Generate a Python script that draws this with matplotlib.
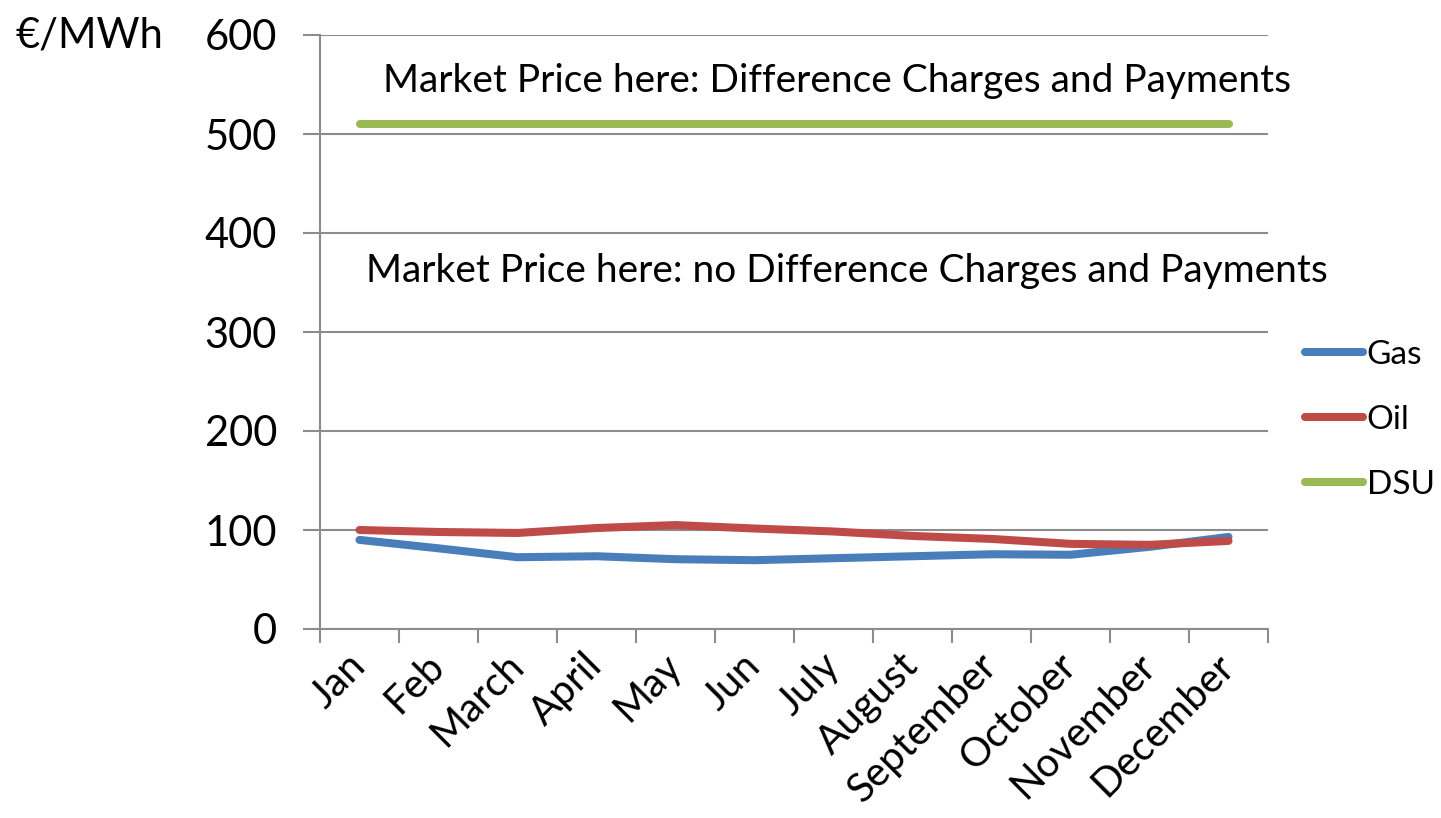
import matplotlib.pyplot as plt
import numpy as np

plt.rcParams['font.family'] = ['Lato', 'DejaVu Sans']

months = ['Jan', 'Feb', 'March', 'April', 'May', 'Jun', 'July', 'August',
          'September', 'October', 'November', 'December']
gas = [90, 81.5, 72.5, 73.5, 70.5, 69.5, 71.5, 73.5, 75.5, 75, 83, 93]
oil = [100, 98, 97, 102, 105, 101.5, 98.5, 94, 91, 86, 85, 89]
dsu = [510] * 12
yticks = [0, 100, 200, 300, 400, 500, 600]

colors = {'Gas': '#4A7EBB', 'Oil': '#BE4B48', 'DSU': '#98B954'}
grid_col = '#8C8C8C'

fig = plt.figure(figsize=(14.41, 8.18), dpi=100)
ax = fig.add_axes([320 / 1441, 1 - 629 / 818, 948 / 1441, 594 / 818])

x = np.arange(len(months))
ax.plot(x, gas, color=colors['Gas'], lw=5.8, solid_capstyle='round', label='Gas')
ax.plot(x, oil, color=colors['Oil'], lw=5.8, solid_capstyle='round', label='Oil')
ax.plot(x, dsu, color=colors['DSU'], lw=5.8, solid_capstyle='round', label='DSU')

ax.set_xlim(-0.5, len(months) - 0.5)
ax.set_ylim(0, 600)
ax.set_yticks(yticks)
ax.set_yticklabels([str(v) for v in yticks], fontsize=30)
ax.yaxis.grid(True, color=grid_col, lw=1.5)
ax.set_axisbelow(True)

ax.set_xticks(x)
ax.set_xticklabels(months, fontsize=29, rotation=45, ha='right', va='center',
                   rotation_mode='anchor')
ax.set_xticks(np.arange(-0.5, len(months)), minor=True)
ax.tick_params(axis='x', which='major', length=0, pad=22)
ax.tick_params(axis='x', which='minor', length=10, width=1.5, color=grid_col)
ax.tick_params(axis='y', length=12, width=1.5, color=grid_col, pad=19)

for s in ['top', 'right']:
    ax.spines[s].set_visible(False)
for s in ['left', 'bottom']:
    ax.spines[s].set_color(grid_col)
    ax.spines[s].set_linewidth(1.5)

ax.text(0.3, 554, 'Market Price here: Difference Charges and Payments',
        fontsize=28, va='center', ha='left')
ax.text(0.08, 362, 'Market Price here: no Difference Charges and Payments',
        fontsize=28, va='center', ha='left')

fig.text(15 / 1441, 1 - 35 / 818, '€/MWh', fontsize=30, va='center', ha='left')

ax.legend(loc='center left', bbox_to_anchor=(1.039, 0.352), frameon=False,
          fontsize=24, handlelength=1.75, handletextpad=0.1, labelspacing=1.05,
          borderpad=0, borderaxespad=0)

fig.savefig('out.png', dpi=100)
